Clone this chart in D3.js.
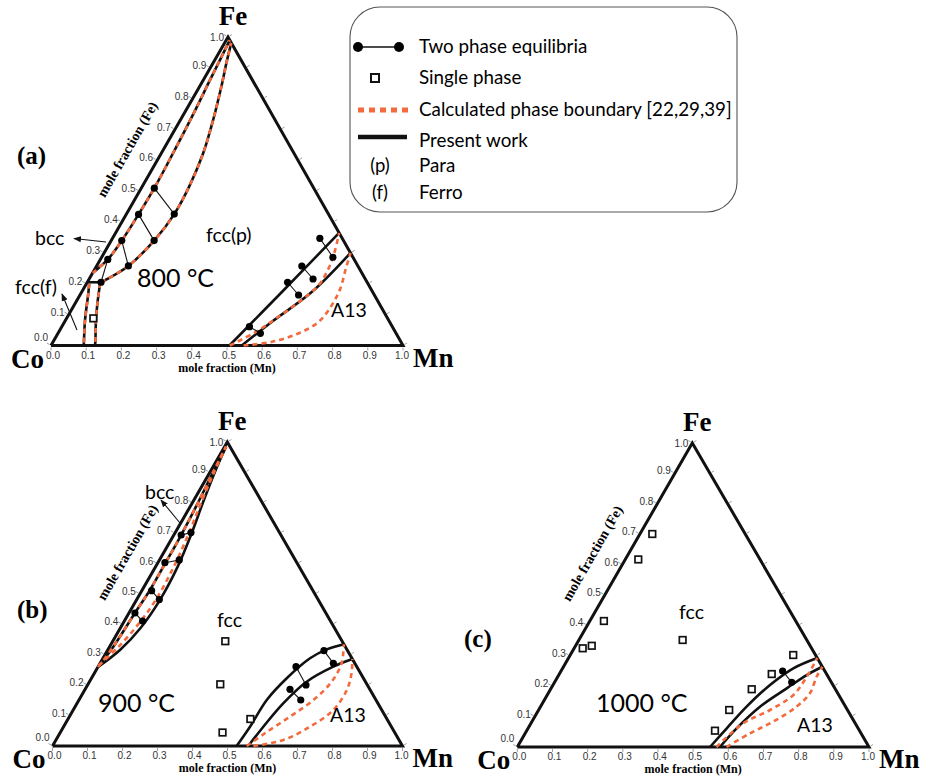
<!DOCTYPE html>
<html><head><meta charset="utf-8">
<script src="https://cdn.jsdelivr.net/npm/d3@7"></script>
<style>
body{margin:0;background:#fff}
svg{display:block}
</style></head><body>
<svg id="chart" width="930" height="778"></svg>
<script>
// Compositions are [x(Mn), x(Fe)] mole fractions; x(Co) = 1 - x(Mn) - x(Fe).
const tickValues = [0, 0.1, 0.2, 0.3, 0.4, 0.5, 0.6, 0.7, 0.8, 0.9, 1.0];
const tickLabels = ["0.0", "0.1", "0.2", "0.3", "0.4", "0.5", "0.6", "0.7", "0.8", "0.9", "1.0"];

// ---- 800 °C ----
const bcc800 = [[0, 0.235], [0.021, 0.279], [0.030, 0.340], [0.035, 0.425], [0.037, 0.51], [0.033, 0.63], [0.027, 0.75], [0.019, 0.86], [0.013, 0.95], [0.010, 0.99]];
const fcc800 = [[0.039, 0.205], [0.09, 0.258], [0.122, 0.34], [0.136, 0.426], [0.133, 0.52], [0.119, 0.623], [0.093, 0.731], [0.062, 0.839], [0.035, 0.925], [0.019, 0.981]];
const ferroEdge800 = [[0, 0.205], [0.039, 0.205]];
const ferroLeft800 = [[0.008, 0.2], [0.021, 0.169], [0.055, 0.083], [0.0875, 0.012], [0.093, 0]];
const ferroRight800 = [[0.038, 0.202], [0.063, 0.137], [0.086, 0.083], [0.12, 0.012], [0.125, 0]];
const a13Upper800 = [[0.507, 0], [0.571, 0.18], [0.635, 0.365]];
const a13Lower800 = [[0.542, 0], [0.589, 0.077], [0.654, 0.174], [0.70, 0.30]];
const a13CalcIn800 = [[0.508, 0], [0.559, 0.043], [0.594, 0.086], [0.633, 0.14], [0.662, 0.196], [0.663, 0.25], [0.653, 0.304], [0.635, 0.365]];
const a13CalcOut800 = [[0.547, 0], [0.622, 0.012], [0.684, 0.0395], [0.722, 0.077], [0.732, 0.131], [0.729, 0.185], [0.712, 0.25], [0.70, 0.30]];
const tie800 = [
  [[0.037, 0.510], [0.136, 0.426]],
  [[0.035, 0.425], [0.122, 0.340]],
  [[0.030, 0.340], [0.090, 0.258]],
  [[0.021, 0.279], [0.039, 0.205]],
  [[0.589, 0.3475], [0.657, 0.286]],
  [[0.583, 0.2577], [0.636, 0.2156]],
  [[0.569, 0.205], [0.621, 0.1637]],
  [[0.533, 0.061], [0.575, 0.0395]]
];
const single800 = [[0.076, 0.088]];

// ---- 900 °C ----
const bcc900 = [[0, 0.26], [0.01, 0.32], [0.017, 0.4375], [0.022, 0.51], [0.022, 0.603], [0.021, 0.694], [0.016, 0.8], [0.009, 0.9], [0.004, 0.985]];
const fcc900 = [[0, 0.26], [0.035, 0.316], [0.058, 0.39], [0.067, 0.48], [0.063, 0.59], [0.048, 0.70], [0.03, 0.80], [0.014, 0.9], [0.004, 0.985]];
const fcc900Calc = [[0, 0.265], [0.025, 0.325], [0.045, 0.40], [0.055, 0.48], [0.052, 0.59], [0.04, 0.70], [0.025, 0.80], [0.012, 0.9], [0.004, 0.985]];
const a13Upper900 = [[0.526, 0], [0.5326, 0.0635], [0.5366, 0.1513], [0.558, 0.2227], [0.5917, 0.2885], [0.6246, 0.318], [0.665, 0.335]];
const a13Lower900 = [[0.5594, 0], [0.5706, 0.0635], [0.589, 0.1405], [0.6206, 0.2115], [0.672, 0.2609], [0.714, 0.286]];
const a13CalcIn900 = [[0.555, 0], [0.586, 0.0418], [0.630, 0.0964], [0.670, 0.1513], [0.692, 0.2115], [0.69, 0.272], [0.665, 0.335]];
const a13CalcOut900 = [[0.574, 0], [0.650, 0.0197], [0.704, 0.0635], [0.743, 0.118], [0.749, 0.184], [0.735, 0.239], [0.714, 0.286]];
const tie900 = [
  [[0.021, 0.694], [0.045, 0.702]],
  [[0.020, 0.603], [0.0565, 0.612]],
  [[0.028, 0.511], [0.0646, 0.4816]],
  [[0.017, 0.4375], [0.052, 0.411]],
  [[0.619, 0.3135], [0.6666, 0.272]],
  [[0.5654, 0.261], [0.624, 0.2007]],
  [[0.5854, 0.1865], [0.6337, 0.1513]]
];
const single900 = [[0.3215, 0.3447], [0.378, 0.203], [0.521, 0.0888], [0.4636, 0.0444]];

// ---- 1000 °C ----
const a13Upper1000 = [[0.548, 0], [0.565, 0.0615], [0.586, 0.1326], [0.617, 0.204], [0.656, 0.259], [0.707, 0.293]];
const a13Lower1000 = [[0.576, 0], [0.593, 0.0615], [0.624, 0.1326], [0.670, 0.193], [0.705, 0.2368], [0.736, 0.264]];
const a13CalcIn1000 = [[0.566, 0], [0.604, 0.078], [0.658, 0.1217], [0.700, 0.171], [0.708, 0.2313], [0.707, 0.293]];
const a13CalcOut1000 = [[0.595, 0], [0.639, 0.045], [0.686, 0.0832], [0.728, 0.1326], [0.744, 0.1766], [0.736, 0.2313], [0.736, 0.264]];
const tie1000 = [[[0.630, 0.25], [0.6744, 0.2128]]];
const single1000 = [[0.0352, 0.7007], [0.037, 0.617], [0.040, 0.4145], [0.046, 0.333], [0.0244, 0.3247], [0.295, 0.352], [0.5354, 0.0536], [0.634, 0.3026], [0.604, 0.240], [0.572, 0.190], [0.542, 0.1217]];

const RED = "#f26a3d";
const SERIF = "'Liberation Serif','Times New Roman',serif";
const SANS = "Lato,'Open Sans',sans-serif";
const TICKFONT = "Arial,'Liberation Sans',sans-serif";

const svg = d3.select("#chart");

svg.append("defs").append("marker").attr("id", "arr").attr("viewBox", "0 0 10 10")
  .attr("refX", 9).attr("refY", 5).attr("markerWidth", 7).attr("markerHeight", 7).attr("orient", "auto")
  .append("path").attr("d", "M0,1 L10,5 L0,9 Z").attr("fill", "#111");

function panel(cfg) {
  const g = svg.append("g");
  const sx = d3.scaleLinear().domain([0, 1]).range([cfg.co[0], cfg.mn[0]]);
  const sy = d3.scaleLinear().domain([0, 1]).range([cfg.co[1], cfg.fe[1]]);
  const k = (cfg.fe[0] - cfg.co[0]) / (cfg.mn[0] - cfg.co[0]);
  const P = d => [sx(d[0] + d[1] * k), sy(d[1])];
  const line = d3.line().x(d => P(d)[0]).y(d => P(d)[1]);
  const curve = d3.line().x(d => P(d)[0]).y(d => P(d)[1]).curve(d3.curveCatmullRom.alpha(0.5));

  // triangle frame
  g.append("path")
    .attr("d", line([[0, 0], [1, 0], [0, 1], [0, 0]]))
    .attr("fill", "none").attr("stroke", "#111").attr("stroke-width", 3)
    .attr("stroke-linejoin", "miter");

  // small tick marks on all three sides
  const tk = 3;
  tickValues.forEach(v => {
    const b = P([v, 0]), l = P([0, v]), r = P([1 - v, v]);
    g.append("line").attr("x1", b[0]).attr("y1", b[1] + 2).attr("x2", b[0]).attr("y2", b[1] + 2 + tk)
      .attr("stroke", "#888").attr("stroke-width", 0.8);
    g.append("line").attr("x1", l[0] - 1.5).attr("y1", l[1] - 1).attr("x2", l[0] - 1.5 - tk * 0.866).attr("y2", l[1] - 1 - tk * 0.5)
      .attr("stroke", "#888").attr("stroke-width", 0.8);
    g.append("line").attr("x1", r[0] + 1.5).attr("y1", r[1] - 1).attr("x2", r[0] + 1.5 + tk * 0.866).attr("y2", r[1] - 1 - tk * 0.5)
      .attr("stroke", "#888").attr("stroke-width", 0.8);
  });

  // tick labels (end labels are nudged clear of the corner symbols)
  const leftDy = v => (v === 0 ? -5 : v === 1 ? 4 : 1);
  g.selectAll(".bt").data(tickValues).enter().append("text")
    .attr("x", v => P([v, 0])[0] + (v === 1 ? -1 : 2)).attr("y", v => P([v, 0])[1] + 13)
    .attr("text-anchor", "middle").attr("font-family", TICKFONT)
    .attr("font-size", 10).attr("fill", "#333").text((v, i) => tickLabels[i]);
  g.selectAll(".lt").data(tickValues).enter().append("text")
    .attr("x", v => P([0, v])[0] - (v === 0 ? 3 : 4)).attr("y", v => P([0, v])[1] + leftDy(v))
    .attr("text-anchor", "end").attr("font-family", TICKFONT)
    .attr("font-size", 10).attr("fill", "#333").text((v, i) => tickLabels[i]);

  // axis titles
  const ang = Math.atan2(cfg.fe[1] - cfg.co[1], cfg.fe[0] - cfg.co[0]) * 180 / Math.PI;
  const mid = P([0, 0.585]);
  g.append("text")
    .attr("transform", `translate(${mid[0] - 30 * 0.866},${mid[1] - 30 * 0.5}) rotate(${ang})`)
    .attr("text-anchor", "middle").attr("dominant-baseline", "middle")
    .attr("font-family", SERIF).attr("font-weight", "bold").attr("font-size", 14)
    .text("mole fraction (Fe)");
  g.append("text")
    .attr("x", P([0.5, 0])[0]).attr("y", P([0.5, 0])[1] + 26)
    .attr("text-anchor", "middle").attr("font-family", SERIF).attr("font-weight", "bold").attr("font-size", 12)
    .text("mole fraction (Mn)");

  // vertex labels
  const fe = P([0, 1]), co = P([0, 0]), mn = P([1, 0]);
  g.append("text").attr("x", fe[0] + 5).attr("y", fe[1] - 12).attr("text-anchor", "middle")
    .attr("font-family", SERIF).attr("font-weight", "bold").attr("font-size", 27).text("Fe");
  g.append("text").attr("x", co[0] - 7).attr("y", co[1] + 22).attr("text-anchor", "end")
    .attr("font-family", SERIF).attr("font-weight", "bold").attr("font-size", 27).text("Co");
  g.append("text").attr("x", mn[0] + 10).attr("y", mn[1] + 21).attr("text-anchor", "start")
    .attr("font-family", SERIF).attr("font-weight", "bold").attr("font-size", 27).text("Mn");

  // panel tag and temperature
  g.append("text").attr("x", cfg.tag[0]).attr("y", cfg.tag[1]).attr("font-family", SERIF)
    .attr("font-weight", "bold").attr("font-size", 25).text(cfg.tagText);
  g.append("text").attr("x", cfg.temp[0]).attr("y", cfg.temp[1]).attr("font-family", SANS)
    .attr("font-size", 25).text(cfg.tempText);

  // present-work boundaries (solid black)
  cfg.present.forEach(c => g.append("path").attr("d", curve(c)).attr("fill", "none")
    .attr("stroke", "#111").attr("stroke-width", 2.6));
  // calculated boundaries (dashed red)
  cfg.calc.forEach(c => g.append("path").attr("d", curve(c)).attr("fill", "none")
    .attr("stroke", RED).attr("stroke-width", 2.6).attr("stroke-dasharray", "5,4"));

  // tie lines with end points
  cfg.ties.forEach(t => {
    g.append("path").attr("d", line(t)).attr("stroke", "#111").attr("stroke-width", 1.1).attr("fill", "none");
    t.forEach(d => g.append("circle").attr("cx", P(d)[0]).attr("cy", P(d)[1]).attr("r", 3.6).attr("fill", "#000"));
  });

  // single-phase samples
  cfg.singles.forEach(d => g.append("rect").attr("x", P(d)[0] - 3.3).attr("y", P(d)[1] - 3.3)
    .attr("width", 6.6).attr("height", 6.6).attr("fill", "#fff").attr("stroke", "#111").attr("stroke-width", 1.7));

  // phase labels
  cfg.labels.forEach(l => g.append("text").attr("x", l[1]).attr("y", l[2]).attr("font-family", SANS)
    .attr("font-size", 19.5).text(l[0]));

  // arrows
  cfg.arrows.forEach(a => {
    g.append("line").attr("x1", a[0]).attr("y1", a[1]).attr("x2", a[2]).attr("y2", a[3])
      .attr("stroke", "#111").attr("stroke-width", 1.1).attr("marker-end", "url(#arr)");
  });
}

panel({
  co: [51, 345.5], mn: [403, 345.5], fe: [228, 37],
  tag: [17, 164], tagText: "(a)", temp: [137, 287], tempText: "800 °C",
  present: [bcc800, fcc800, ferroEdge800, ferroLeft800, ferroRight800, a13Upper800, a13Lower800],
  calc: [bcc800, fcc800, ferroLeft800, ferroRight800, a13CalcIn800, a13CalcOut800],
  ties: tie800, singles: single800,
  labels: [["fcc(p)", 206, 242], ["A13", 331, 317], ["bcc", 35, 245], ["fcc(f)", 15, 294]],
  arrows: [[106, 242, 74, 238.5], [77, 330, 62, 294]]
});

panel({
  co: [52.5, 746], mn: [402.5, 746], fe: [227.3, 442],
  tag: [17, 618], tagText: "(b)", temp: [98, 712], tempText: "900 °C",
  present: [bcc900, fcc900, a13Upper900, a13Lower900],
  calc: [bcc900, fcc900Calc, a13CalcIn900, a13CalcOut900],
  ties: tie900, singles: single900,
  labels: [["fcc", 217, 627], ["A13", 330, 722], ["bcc", 145, 499]],
  arrows: [[180, 523, 161, 500]]
});

panel({
  co: [517.3, 747], mn: [869, 747], fe: [692.3, 443],
  tag: [464, 647], tagText: "(c)", temp: [596, 712], tempText: "1000 °C",
  present: [a13Upper1000, a13Lower1000],
  calc: [a13CalcIn1000, a13CalcOut1000],
  ties: tie1000, singles: single1000,
  labels: [["fcc", 679, 619], ["A13", 797, 732]],
  arrows: []
});

// legend
const lg = svg.append("g");
lg.append("rect").attr("x", 350).attr("y", 7).attr("width", 387).attr("height", 205).attr("rx", 30)
  .attr("fill", "#fff").attr("stroke", "#555").attr("stroke-width", 1.1);
const legendRows = [
  {y: 47, text: "Two phase equilibria", kind: "tie"},
  {y: 78, text: "Single phase", kind: "square"},
  {y: 110, text: "Calculated phase boundary [22,29,39]", kind: "calc"},
  {y: 141, text: "Present work", kind: "present"},
  {y: 166, text: "Para", kind: "(p)"},
  {y: 193, text: "Ferro", kind: "(f)"}
];
legendRows.forEach(r => {
  if (r.kind === "tie") {
    lg.append("line").attr("x1", 358).attr("x2", 399).attr("y1", r.y).attr("y2", r.y).attr("stroke", "#111").attr("stroke-width", 1.6);
    [358, 399].forEach(x => lg.append("circle").attr("cx", x).attr("cy", r.y).attr("r", 5).attr("fill", "#000"));
  } else if (r.kind === "square") {
    lg.append("rect").attr("x", 371).attr("y", r.y - 4).attr("width", 8).attr("height", 8)
      .attr("fill", "#fff").attr("stroke", "#111").attr("stroke-width", 2);
  } else if (r.kind === "calc") {
    lg.append("line").attr("x1", 358).attr("x2", 408).attr("y1", r.y).attr("y2", r.y)
      .attr("stroke", RED).attr("stroke-width", 5).attr("stroke-dasharray", "6,5");
  } else if (r.kind === "present") {
    lg.append("line").attr("x1", 358).attr("x2", 407).attr("y1", r.y - 4).attr("y2", r.y - 4)
      .attr("stroke", "#111").attr("stroke-width", 4.5);
  } else {
    lg.append("text").attr("x", 380).attr("y", r.y + 6).attr("text-anchor", "middle")
      .attr("font-family", SANS).attr("font-size", 18.5).text(r.kind);
  }
  lg.append("text").attr("x", 419).attr("y", r.y + 6).attr("font-family", SANS).attr("font-size", 18.8).text(r.text);
});
</script>
</body></html>
